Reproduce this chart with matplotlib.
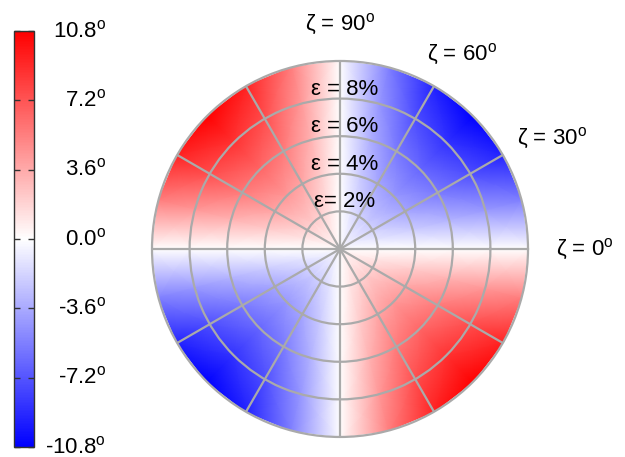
import numpy as np
import matplotlib
matplotlib.use('Agg')
from matplotlib import pyplot as plt
from matplotlib.transforms import ScaledTranslation

plt.rcParams['font.family'] = ['Liberation Sans', 'DejaVu Sans']
plt.rcParams['mathtext.fontset'] = 'custom'
plt.rcParams['mathtext.rm'] = 'Liberation Sans'
plt.rcParams['mathtext.it'] = 'Liberation Sans:italic'

# strain rings (%), centre included
strain = np.array([0, 2, 4, 6, 8, 10])
# tilt (deg) read along the outer ring (eps = 10%), every 15 deg of zeta over one half-turn
zeta_half = np.array([0, 15, 30, 45, 60, 75, 90, 105, 120, 135, 150, 165])
edge_tilt_half = np.array([0, -5.4, -9.35, -10.8, -9.35, -5.4, 0, 5.4, 9.35, 10.8, 9.35, 5.4])

cbar_ticks = [-10.8, -7.2, -3.6, 0.0, 3.6, 7.2, 10.8]
ring_strain = [2, 4, 6, 8]
ring_labels = ['\u03b5= 2%', '\u03b5 = 4%', '\u03b5 = 6%', '\u03b5 = 8%']
zeta_ticks = [0, 30, 60, 90]

# pattern repeats every 180 deg, close the circle at 360
zeta = np.concatenate([zeta_half, zeta_half + 180, [360]])
edge_tilt = np.concatenate([edge_tilt_half, edge_tilt_half, edge_tilt_half[:1]])
tilt = np.outer(strain / strain.max(), edge_tilt)

fig = plt.figure(figsize=(6.25, 4.57), dpi=100)
ax = fig.add_axes([0.2432, 0.0438, 0.6016, 0.8228], projection='polar')
mesh = ax.pcolormesh(np.deg2rad(zeta), strain, tilt, cmap='bwr',
                     vmin=-10.8, vmax=10.8, shading='gouraud')
ax.set_ylim(0, 10)
ax.set_thetagrids(range(0, 360, 30), labels=[])
ax.set_rgrids(ring_strain, labels=[])
ax.set_axisbelow(False)
ax.grid(True, color='#aaaaaa', linewidth=1.6)
ax.spines['polar'].set_color('#aaaaaa')
ax.spines['polar'].set_linewidth(1.6)
ax.tick_params(length=0)

# strain labels just outside each ring along zeta = 90
shift = ax.transData + ScaledTranslation(0.05, 0, fig.dpi_scale_trans)
for r, lab in zip(ring_strain, ring_labels):
    ax.text(np.pi / 2, r + 0.5, lab, transform=shift, ha='center', va='center', fontsize=16)

# zeta labels outside the circle
zeta_pos = [(-0.2, 13.0), (27.6, 12.7), (58.0, 12.2), (90.0, 11.95)]
for z, (th, r) in zip(zeta_ticks, zeta_pos):
    ax.text(np.deg2rad(th), r, '\u03b6 = %d$^{\\rm o}$' % z, ha='center', va='center', fontsize=16)

# colorbar on the left
cax = fig.add_axes([14.3 / 625, 10 / 457, 20 / 625, 416 / 457])
cb = fig.colorbar(mesh, cax=cax, ticks=cbar_ticks)
cb.outline.set_edgecolor('#333333')
cb.outline.set_linewidth(1.0)
cax.tick_params(direction='in', left=True, right=True, length=4, width=1, color='#333333',
                labelleft=False, labelright=False)
for v in cbar_ticks:
    cax.text((106 - 14.3) / 20, v, '%.1f$^{\\rm o}$' % v, transform=cax.get_yaxis_transform(),
             ha='right', va='center', fontsize=16)

fig.savefig('out.png', dpi=100)
